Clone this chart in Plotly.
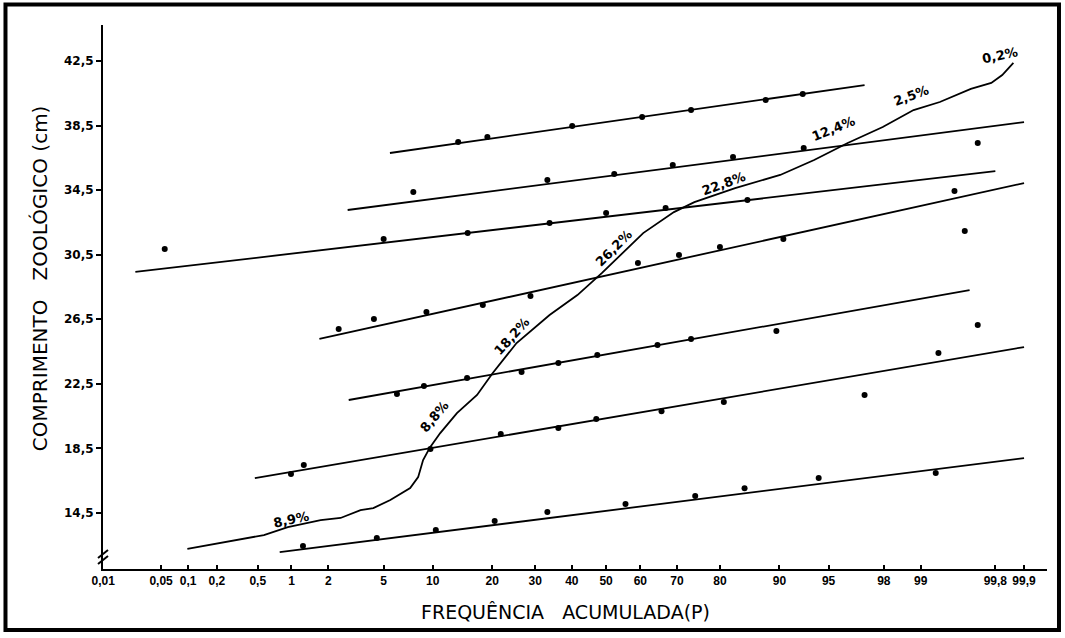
import plotly.graph_objects as go
from statistics import NormalDist

_nd = NormalDist()


def probit(p):
    return _nd.inv_cdf(p / 100.0)


# ---------------- axes ----------------
x_tick_pct = [0.01, 0.05, 0.1, 0.2, 0.5, 1, 2, 5, 10, 20, 30, 40, 50, 60, 70, 80, 90, 95, 98, 99, 99.8, 99.9]
x_tick_text = ["0,01", "0,05", "0,1", "0,2", "0,5", "1", "2", "5", "10", "20", "30", "40", "50",
               "60", "70", "80", "90", "95", "98", "99", "99,8", "99,9"]
y_tick_vals = [14.5, 18.5, 22.5, 26.5, 30.5, 34.5, 38.5, 42.5]
y_tick_text = ["14,5", "18,5", "22,5", "26,5", "30,5", "34,5", "38,5", "42,5"]

# ---------------- observed points per age group (cumulative %, length cm) ----------------
g1_p = [13.7, 19.0, 40.1, 60.5, 73.5, 88.1, 92.7]
g1_v = [37.48, 37.79, 38.47, 39.03, 39.46, 40.08, 40.46]
g2_p = [7.7, 33.2, 52.4, 68.9, 82.6, 92.8, 99.7]
g2_v = [34.38, 35.13, 35.50, 36.06, 36.55, 37.11, 37.42]
g3_p = [0.055, 5.0, 15.3, 33.8, 50.0, 67.0, 85.2]
g3_v = [30.85, 31.47, 31.84, 32.46, 33.08, 33.39, 33.89]
g4_p = [2.4, 4.3, 9.2, 18.1, 28.8, 59.3, 70.5, 80.0, 90.5, 99.5, 99.6]
g4_v = [25.90, 26.51, 26.95, 27.38, 27.94, 29.98, 30.48, 30.98, 31.47, 34.45, 31.97]
g5_p = [6.1, 8.9, 15.2, 26.6, 36.2, 47.4, 64.8, 73.5, 89.6, 99.7]
g5_v = [21.87, 22.36, 22.86, 23.23, 23.79, 24.28, 24.90, 25.28, 25.77, 26.14]
g6_p = [0.99, 1.27, 9.7, 21.8, 36.2, 47.1, 65.9, 80.8, 97.2, 99.3]
g6_v = [16.91, 17.47, 18.46, 19.39, 19.76, 20.32, 20.81, 21.37, 21.81, 24.41]
g7_p = [1.25, 4.5, 10.4, 20.5, 33.2, 55.7, 74.5, 84.7, 94.2, 99.26]
g7_v = [12.45, 12.95, 13.44, 14.00, 14.56, 15.05, 15.55, 16.04, 16.66, 16.97]

# ---------------- fitted straight lines (end points: cumulative %, length cm) ----------------
l1_p = [5.5, 97.2];   l1_v = [36.80, 41.01]
l2_p = [2.8, 99.9];   l2_v = [33.27, 38.72]
l3_p = [0.025, 99.8]; l3_v = [29.43, 35.68]
l4_p = [1.7, 99.9];   l4_v = [25.28, 34.94]
l5_p = [2.85, 99.64]; l5_v = [21.50, 28.31]
l6_p = [0.47, 99.9];  l6_v = [16.66, 24.78]
l7_p = [0.79, 99.9];  l7_v = [12.08, 17.90]

# ---------------- total cumulative curve ----------------
curve_p = [0.098, 0.164, 0.30, 0.57, 0.93, 1.74, 2.48, 3.47, 4.26, 5.53, 7.37, 8.23, 8.8, 9.66,
           11.0, 13.5, 17.0, 20.1, 25.4, 33.8, 41.6, 48.8, 60.8, 69.2, 74.3, 80.4, 83.0, 90.1,
           93.8, 96.3, 97.96, 98.85, 99.32, 99.65, 99.78, 99.83, 99.87]
curve_v = [12.27, 12.51, 12.76, 13.13, 13.63, 14.06, 14.19, 14.68, 14.80, 15.30, 16.04, 16.72, 17.78, 18.58,
           19.45, 20.69, 21.81, 23.17, 25.03, 26.76, 28.00, 29.37, 31.84, 33.14, 33.76, 34.32, 34.63, 35.44,
           36.37, 37.42, 38.41, 39.46, 39.96, 40.77, 41.14, 41.63, 42.38]

# ---------------- percentage labels along the curve ----------------
lab_text = ["8,9%", "8,8%", "18,2%", "26,2%", "22,8%", "12,4%", "2,5%", "0,2%"]
lab_p = [1.0, 10.2, 24.2, 52.1, 80.8, 95.4, 98.8, 99.82]
lab_v = [14.12, 20.5, 25.46, 30.91, 34.94, 38.29, 40.39, 42.81]
lab_angle = [-12, -50, -48, -45, -20, -22, -20, -12]

groups = [(g1_p, g1_v), (g2_p, g2_v), (g3_p, g3_v), (g4_p, g4_v), (g5_p, g5_v), (g6_p, g6_v), (g7_p, g7_v)]
lines = [(l1_p, l1_v), (l2_p, l2_v), (l3_p, l3_v), (l4_p, l4_v), (l5_p, l5_v), (l6_p, l6_v), (l7_p, l7_v)]

fig = go.Figure()

for lp, lv in lines:
    fig.add_trace(go.Scatter(x=[probit(p) for p in lp], y=lv, mode="lines",
                             line=dict(color="black", width=1.8), showlegend=False, hoverinfo="skip"))

for gp, gv in groups:
    fig.add_trace(go.Scatter(x=[probit(p) for p in gp], y=gv, mode="markers",
                             marker=dict(color="black", size=6), showlegend=False))

fig.add_trace(go.Scatter(x=[probit(p) for p in curve_p], y=curve_v, mode="lines",
                         line=dict(color="black", width=1.8), showlegend=False))

annotations = []
for t, p, v, a in zip(lab_text, lab_p, lab_v, lab_angle):
    annotations.append(dict(x=probit(p), y=v, xref="x", yref="y", text=t, showarrow=False,
                            textangle=a, font=dict(family="DejaVu Sans", size=13, color="black", weight="bold")))

# axis titles
annotations.append(dict(x=-0.0665, y=0.535, xref="paper", yref="paper", xanchor="center", yanchor="middle",
                        text="COMPRIMENTO   ZOOLÓGICO (cm)", showarrow=False, textangle=-90,
                        font=dict(family="DejaVu Sans", size=20, color="black")))
annotations.append(dict(x=0.490, y=-0.079, xref="paper", yref="paper", xanchor="center", yanchor="middle",
                        text="FREQUÊNCIA   ACUMULADA(P)", showarrow=False,
                        font=dict(family="DejaVu Sans", size=19, color="black")))

shapes = [
    # outer frame
    dict(type="rect", xref="paper", yref="paper", x0=-0.1033, x1=1.0127, y0=-0.1121, y1=1.0377,
         line=dict(color="black", width=4)),
    # axis break marks
    dict(type="line", xref="paper", yref="paper", x0=-0.0053, y0=0.0202, x1=0.0053, y1=0.0349,
         line=dict(color="black", width=2)),
    dict(type="line", xref="paper", yref="paper", x0=-0.0053, y0=0.0092, x1=0.0053, y1=0.0239,
         line=dict(color="black", width=2)),
]

fig.update_layout(
    width=1065, height=638, autosize=False,
    margin=dict(l=103, r=18, t=25, b=69),
    paper_bgcolor="white", plot_bgcolor="white",
    annotations=annotations, shapes=shapes,
    xaxis=dict(range=[-3.72, 3.26], tickvals=[probit(p) for p in x_tick_pct], ticktext=x_tick_text,
               tickangle=0, ticks="inside", ticklen=4, tickwidth=1.5, tickcolor="black",
               showline=True, linecolor="black", linewidth=2, showgrid=False, zeroline=False,
               tickfont=dict(family="Liberation Sans", size=12, color="black", weight="bold")),
    yaxis=dict(range=[11.03, 44.73], tickvals=y_tick_vals, ticktext=y_tick_text,
               ticks="outside", ticklen=5, tickwidth=1.5, tickcolor="black",
               showline=True, linecolor="black", linewidth=2, showgrid=False, zeroline=False,
               tickfont=dict(family="DejaVu Sans", size=12, color="black", weight="bold")),
)

fig.write_html("out.html", config={"displayModeBar": False},
               post_script="document.body.style.margin='0';")
